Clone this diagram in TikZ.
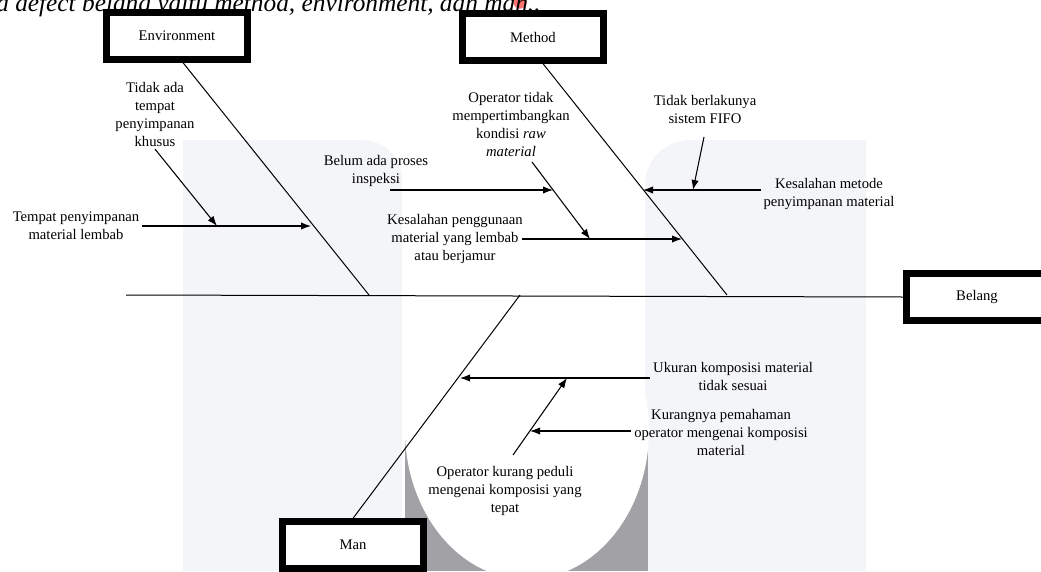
\documentclass[tikz,border=0pt]{standalone}
\usepackage{fontspec}
\setmainfont{Liberation Serif}
\usetikzlibrary{arrows.meta}
\definecolor{wmlight}{HTML}{F4F5F8}
\definecolor{wmdark}{HTML}{A2A2A6}
\begin{document}
\begin{tikzpicture}[x=0.75pt,y=-0.75pt,
    catbox/.style={draw,line width=5pt,fill=white,minimum width=106pt,
      minimum height=35pt,inner sep=0pt,font=\fontsize{11}{13.5}\selectfont},
    cause/.style={align=center,inner sep=2pt,font=\fontsize{11}{13.5}\selectfont},
    bone/.style={line width=0.75pt},
    arr/.style={line width=0.8pt,-{Latex[length=7.5pt,width=5.5pt]}}]
  \useasboundingbox (0,0) rectangle (1041,571);
  \clip (0,0) rectangle (1041,571);
  % watermark
  \fill[wmlight] (183,571) -- (183,140) -- (362,140)
    arc[start angle=90,end angle=0,radius=30pt] -- (402,571) -- cycle;
  \fill[wmlight] (866,571) -- (866,140) -- (690,140)
    arc[start angle=90,end angle=180,radius=33.75pt] -- (645,571) -- cycle;
  \fill[wmdark] (405,440) rectangle (648,571);
  \fill[white] (527,430) ellipse [x radius=91.5pt,y radius=112pt];
  \fill[red!55] (520,2) circle (5pt);
  \node[anchor=base west,inner sep=0pt,font=\fontsize{19}{23}\selectfont\itshape]
    (intro) at (-4,12) {a defect belang yaitu method, environment, dan man..};
  % categories
  \node[catbox] (env) at (177,36) {Environment};
  \node[catbox] (meth) at (533,37) {Method};
  \node[catbox] (belang) at (977,297) {Belang};
  \node[catbox] (man) at (353,545) {Man};
  % causes
  \node[cause] (tak) at (155,114) {Tidak ada\\tempat\\penyimpanan\\khusus};
  \node[cause] (tpm) at (76,226) {Tempat penyimpanan\\material lembab};
  \node[cause] (bap) at (376,171) {Belum ada proses\\inspeksi};
  \node[cause] (otm) at (511,124) {Operator tidak\\mempertimbangkan\\kondisi \textit{raw}\\\textit{material}};
  \node[cause] (kpm) at (455,239) {Kesalahan penggunaan\\material yang lembab\\atau berjamur};
  \node[cause] (fifo) at (705,109) {Tidak berlakunya\\sistem FIFO};
  \node[cause] (kmp) at (829,194) {Kesalahan metode\\penyimpanan material};
  \node[cause] (uks) at (733,376) {Ukuran komposisi material\\tidak sesuai};
  \node[cause] (kpo) at (721,432) {Kurangnya pemahaman\\operator mengenai komposisi\\material};
  \node[cause] (okp) at (505,491) {Operator kurang peduli\\mengenai komposisi yang\\tepat};
  % points on the bones
  \coordinate (tail) at (126,295);
  \coordinate (envjoin) at (369,295);
  \coordinate (methjoin) at (727,295);
  \coordinate (manjoin) at (520,295);
  \coordinate (envA) at (311,226);
  \coordinate (envB) at (217,226);
  \coordinate (methA) at (643,190);
  \coordinate (methB) at (693,190);
  \coordinate (methC) at (682,239);
  \coordinate (methD) at (590,239);
  \coordinate (methE) at (553,190);
  \coordinate (manA) at (460,378);
  \coordinate (manB) at (567,378);
  \coordinate (manC) at (530,431);
  \coordinate (bapT) at (390,190);
  \coordinate (otmT) at (532,162);
  \coordinate (fifoT) at (704,137);
  \coordinate (okpT) at (513,455);
  % bones
  \draw[bone] (tail) -- (belang.west);
  \draw[bone] ([xshift=4.5pt]env.south) -- (envjoin);
  \draw[bone] ([xshift=7.5pt]meth.south) -- (methjoin);
  \draw[bone] (manjoin) -- (man.north);
  % arrows
  \draw[arr] (tpm.east) -- (envA);
  \draw[arr] (tak.south) -- (envB);
  \draw[arr] (bapT) -- (methE);
  \draw[arr] ([xshift=-3pt]kpm.east |- methC) -- (methC);
  \draw[arr] (otmT) -- (methD);
  \draw[arr] (kmp.west |- methA) -- (methA);
  \draw[arr] (fifoT) -- (methB);
  \draw[arr] (uks.west |- manA) -- (manA);
  \draw[arr] (kpo.west |- manC) -- (manC);
  \draw[arr] (okpT) -- (manB);
\end{tikzpicture}
\end{document}
